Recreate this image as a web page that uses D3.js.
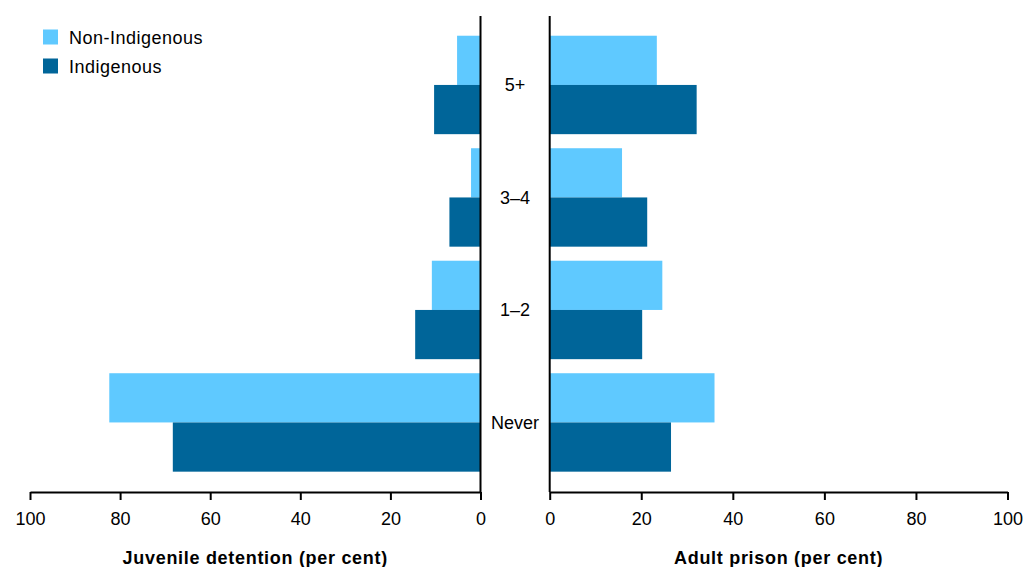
<!DOCTYPE html>
<html><head><meta charset="utf-8">
<script src="https://cdn.jsdelivr.net/npm/d3@7"></script>
<style>body{margin:0;background:#fff}svg{display:block}text{font-family:"Liberation Sans",Arial,sans-serif}</style>
</head><body>
<svg id="c" width="1026" height="567"></svg>
<script>
const categories = ["5+", "3\u20134", "1\u20132", "Never"];
const series = ["Non-Indigenous", "Indigenous"];
const juvNonIndigenous = [5.2, 2.1, 10.8, 82.4];
const juvIndigenous = [10.3, 6.9, 14.5, 68.3];
const adultNonIndigenous = [23.4, 15.8, 24.6, 36.0];
const adultIndigenous = [32.1, 21.3, 20.2, 26.5];
const tickValues = [0, 20, 40, 60, 80, 100];
const colors = ["#5FC9FF", "#006599"];

const svg = d3.select("#c");
const y = d3.scaleBand().domain(categories).range([28.7, 478.7]).paddingInner(0.125).paddingOuter(0.0625);
const ys = d3.scaleBand().domain(series).range([0, y.bandwidth()]);
const xL = d3.scaleLinear().domain([0, 100]).range([480.5, 30]);
const xR = d3.scaleLinear().domain([0, 100]).range([549.7, 1007.5]);
const axisY = 492;

function panel(x, dataA, dataB) {
  const g = svg.append("g");
  [dataA, dataB].forEach((d, si) => {
    g.selectAll(null).data(categories).enter().append("rect")
      .attr("x", (c, i) => Math.min(x(0), x(d[i])))
      .attr("width", (c, i) => Math.abs(x(d[i]) - x(0)))
      .attr("y", c => y(c) + ys(series[si]))
      .attr("height", ys.bandwidth())
      .attr("fill", colors[si]);
  });
  const ax = svg.append("g").attr("transform", `translate(0,${axisY})`)
    .call(d3.axisBottom(x).tickValues(tickValues).tickSize(8).tickSizeOuter(0).tickPadding(12));
  ax.select(".domain").attr("stroke", "#000").attr("stroke-width", 2);
  ax.selectAll(".tick line").attr("stroke", "#000").attr("stroke-width", 2);
  ax.selectAll(".tick text").attr("font-size", 18).attr("fill", "#000")
    .attr("font-family", "Liberation Sans, Arial, sans-serif");
  svg.append("line").attr("x1", x(0)).attr("x2", x(0)).attr("y1", 16).attr("y2", axisY)
    .attr("stroke", "#000").attr("stroke-width", 2);
}
panel(xL, juvNonIndigenous, juvIndigenous);
panel(xR, adultNonIndigenous, adultIndigenous);

svg.selectAll(null).data(categories).enter().append("text")
  .attr("x", (xL(0) + xR(0)) / 2).attr("y", c => y(c) + y.bandwidth() / 2)
  .attr("dy", "0.35em").attr("text-anchor", "middle").attr("font-size", 18).text(c => c);

svg.append("text").attr("x", (xL(0) + xL(100)) / 2).attr("y", 564).attr("text-anchor", "middle")
  .attr("font-size", 18).attr("font-weight", "bold").attr("letter-spacing", 0.7).text("Juvenile detention (per cent)");
svg.append("text").attr("x", (xR(0) + xR(100)) / 2).attr("y", 564).attr("text-anchor", "middle")
  .attr("font-size", 18).attr("font-weight", "bold").attr("letter-spacing", 0.7).text("Adult prison (per cent)");

const lg = svg.append("g");
series.forEach((s, i) => {
  lg.append("rect").attr("x", 43).attr("y", 29.5 + i * 29).attr("width", 15).attr("height", 15).attr("fill", colors[i]);
  lg.append("text").attr("x", 69).attr("y", 38 + i * 29).attr("dy", "0.35em").attr("font-size", 18)
    .attr("letter-spacing", 0.5).text(s);
});
</script>
</body></html>
